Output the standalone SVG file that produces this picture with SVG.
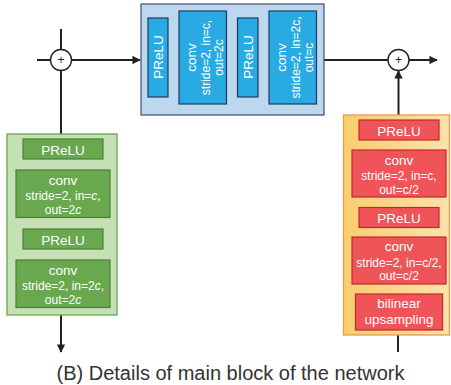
<svg xmlns="http://www.w3.org/2000/svg" width="451" height="385" viewBox="0 0 451 385">
  <defs>
    <marker id="arrow" viewBox="0 0 10 10" refX="9" refY="5" markerWidth="4.2" markerHeight="4.2" orient="auto" markerUnits="strokeWidth">
      <path d="M0,0 L10,5 L0,10 z" fill="#222"/>
    </marker>
    <linearGradient id="orangeFill" x1="0" y1="0" x2="1" y2="0">
      <stop offset="0" stop-color="#f9cd6e"/>
      <stop offset="1" stop-color="#fde2ab"/>
    </linearGradient>
  </defs>
  <style>
    text { font-family: "Liberation Sans", Arial, sans-serif; }
    .conn { stroke: #222; stroke-width: 2; fill: none; }
    .sum { fill: #fff; stroke: #222; stroke-width: 1.4; }
    .plus { font-size: 12px; fill: #222; text-anchor: middle; }
    .blue-outer { fill: #bdd7ee; stroke: #4a5a7a; stroke-width: 1.3; }
    .blue-inner { fill: #29aae2; stroke: #1f3864; stroke-width: 1.2; }
    .green-outer { fill: #c5e0b4; stroke: #6aa84f; stroke-width: 1.3; }
    .green-inner { fill: #6aa84f; stroke: #4e7d36; stroke-width: 1.2; }
    .orange-outer { fill: url(#orangeFill); stroke: #ed9a4a; stroke-width: 1.3; }
    .red-inner { fill: #ef5459; stroke: #c0282e; stroke-width: 1.2; }
    .lbl { fill: #fff; font-size: 13.5px; text-anchor: middle; }
    .sm { fill: #fff; font-size: 12px; text-anchor: middle; }
    .cap { fill: #333; font-size: 20px; text-anchor: middle; }
  </style>

  <!-- connectors -->
  <g id="connectors">
    <line class="conn" x1="61" y1="29" x2="61" y2="49.5"/>
    <line class="conn" x1="37" y1="60" x2="50.5" y2="60"/>
    <line class="conn" x1="71.5" y1="60" x2="140" y2="60" marker-end="url(#arrow)"/>
    <line class="conn" x1="61" y1="70.5" x2="61" y2="134"/>
    <line class="conn" x1="61" y1="315" x2="61" y2="352" marker-end="url(#arrow)"/>
    <line class="conn" x1="324" y1="60" x2="388" y2="60"/>
    <line class="conn" x1="409" y1="60" x2="437" y2="60" marker-end="url(#arrow)"/>
    <line class="conn" x1="398.5" y1="115" x2="398.5" y2="71" marker-end="url(#arrow)"/>
    <line class="conn" x1="398" y1="335" x2="398" y2="352"/>
  </g>

  <!-- summation nodes -->
  <g id="sum-left">
    <circle class="sum" cx="61" cy="60" r="10.5"/>
    <text class="plus" x="61" y="64.2">+</text>
  </g>
  <g id="sum-right">
    <circle class="sum" cx="398.5" cy="60" r="10.5"/>
    <text class="plus" x="398.5" y="64.2">+</text>
  </g>

  <!-- main branch (blue) -->
  <g id="main-block">
    <rect class="blue-outer" x="141" y="4" width="183" height="111"/>
    <rect class="blue-inner" x="148" y="18" width="20" height="79"/>
    <text class="lbl" transform="translate(162.5,57) rotate(-90)">PReLU</text>
    <rect class="blue-inner" x="179" y="11" width="47.5" height="93"/>
    <g transform="translate(0,57.5)">
      <text class="lbl" transform="translate(195.5,0) rotate(-90)">conv</text>
      <text class="sm" transform="translate(210,0) rotate(-90)">stride=2, in=c,</text>
      <text class="sm" transform="translate(223,0) rotate(-90)">out=2c</text>
    </g>
    <rect class="blue-inner" x="237.5" y="18" width="20.5" height="79"/>
    <text class="lbl" transform="translate(252.5,57) rotate(-90)">PReLU</text>
    <rect class="blue-inner" x="269" y="11" width="47.5" height="93"/>
    <g transform="translate(0,57.5)">
      <text class="lbl" transform="translate(285.5,0) rotate(-90)">conv</text>
      <text class="sm" transform="translate(300,0) rotate(-90)">stride=2, in=2c,</text>
      <text class="sm" transform="translate(313,0) rotate(-90)">out=c</text>
    </g>
  </g>

  <!-- left branch (green) -->
  <g id="down-block">
    <rect class="green-outer" x="7" y="134" width="110" height="181"/>
    <rect class="green-inner" x="23" y="139" width="80" height="20"/>
    <text class="lbl" x="63" y="154.5">PReLU</text>
    <rect class="green-inner" x="16" y="170" width="94" height="47.5"/>
    <text class="lbl" x="63" y="185">conv</text>
    <text class="sm" x="63" y="200">stride=2, in=<tspan font-style="italic">c</tspan>,</text>
    <text class="sm" x="63" y="214">out=2<tspan font-style="italic">c</tspan></text>
    <rect class="green-inner" x="23" y="229" width="80" height="20"/>
    <text class="lbl" x="63" y="244.5">PReLU</text>
    <rect class="green-inner" x="16" y="260" width="94" height="47.5"/>
    <text class="lbl" x="63" y="275">conv</text>
    <text class="sm" x="63" y="290">stride=2, in=2<tspan font-style="italic">c</tspan>,</text>
    <text class="sm" x="63" y="304">out=2<tspan font-style="italic">c</tspan></text>
  </g>

  <!-- right branch (orange/red) -->
  <g id="up-block">
    <rect class="orange-outer" x="343.5" y="115" width="106" height="220"/>
    <rect class="red-inner" x="359" y="120" width="80" height="20"/>
    <text class="lbl" x="399" y="135.5">PReLU</text>
    <rect class="red-inner" x="352" y="150" width="94" height="47"/>
    <text class="lbl" x="399" y="164.5">conv</text>
    <text class="sm" x="399" y="179.5">stride=2, in=c,</text>
    <text class="sm" x="399" y="193.5">out=c/2</text>
    <rect class="red-inner" x="359" y="207.5" width="80" height="20"/>
    <text class="lbl" x="399" y="223">PReLU</text>
    <rect class="red-inner" x="352" y="237" width="94" height="47"/>
    <text class="lbl" x="399" y="251">conv</text>
    <text class="sm" x="399" y="266.5">stride=2, in=c/2,</text>
    <text class="sm" x="399" y="280">out=c/2</text>
    <rect class="red-inner" x="355.5" y="294" width="87" height="36"/>
    <text class="lbl" x="399" y="308" font-size="14px">bilinear</text>
    <text class="lbl" x="399" y="323.5" font-size="14px">upsampling</text>
  </g>

  <text class="cap" x="230.5" y="380">(B) Details of main block of the network</text>
</svg>
